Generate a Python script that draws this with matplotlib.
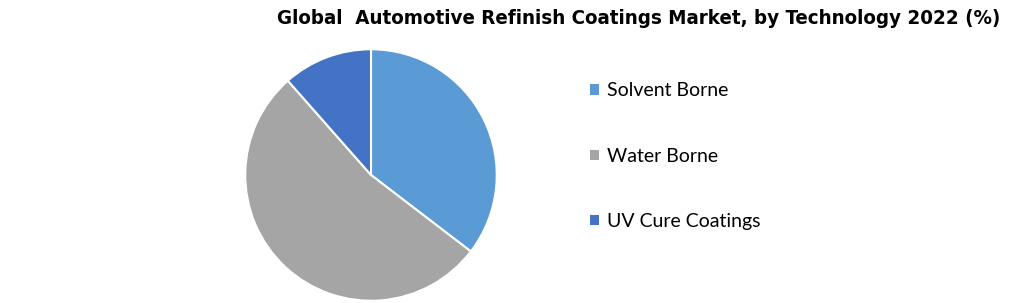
import matplotlib
matplotlib.use('Agg')
import matplotlib.pyplot as plt
from matplotlib.patches import Patch

labels = ['Solvent Borne', 'Water Borne', 'UV Cure Coatings']
shares = [35.4, 53.1, 11.5]
colors = ['#5B9BD5', '#A5A5A5', '#4472C4']

fig = plt.figure(figsize=(10.2, 3.03), dpi=100)
ax = fig.add_axes([244/1020, 1/303, 254/1020, 254/303])
ax.pie(shares, colors=colors, startangle=90, counterclock=False, radius=1,
       wedgeprops=dict(edgecolor='white', linewidth=1.5))
ax.set_xlim(-1.01, 1.01)
ax.set_ylim(-1.01, 1.01)
ax.set_aspect('equal')
ax.axis('off')

fig.text(1000/1020, 1 - 19/303,
         'Global  Automotive Refinish Coatings Market, by Technology 2022 (%)',
         ha='right', va='center', fontsize=14.7, fontweight='bold',
         fontstretch='condensed', family=['DejaVu Sans'])

handles = [Patch(facecolor=c, edgecolor='none') for c in colors]
fig.legend(handles, labels, loc='upper left', bbox_to_anchor=(573/1020, 1 - 65/303),
           frameon=False, handlelength=0.45, handleheight=0.45, handletextpad=0.4,
           labelspacing=2.48, prop=dict(family='Lato', size=14))

fig.savefig('out.png', dpi=100)
